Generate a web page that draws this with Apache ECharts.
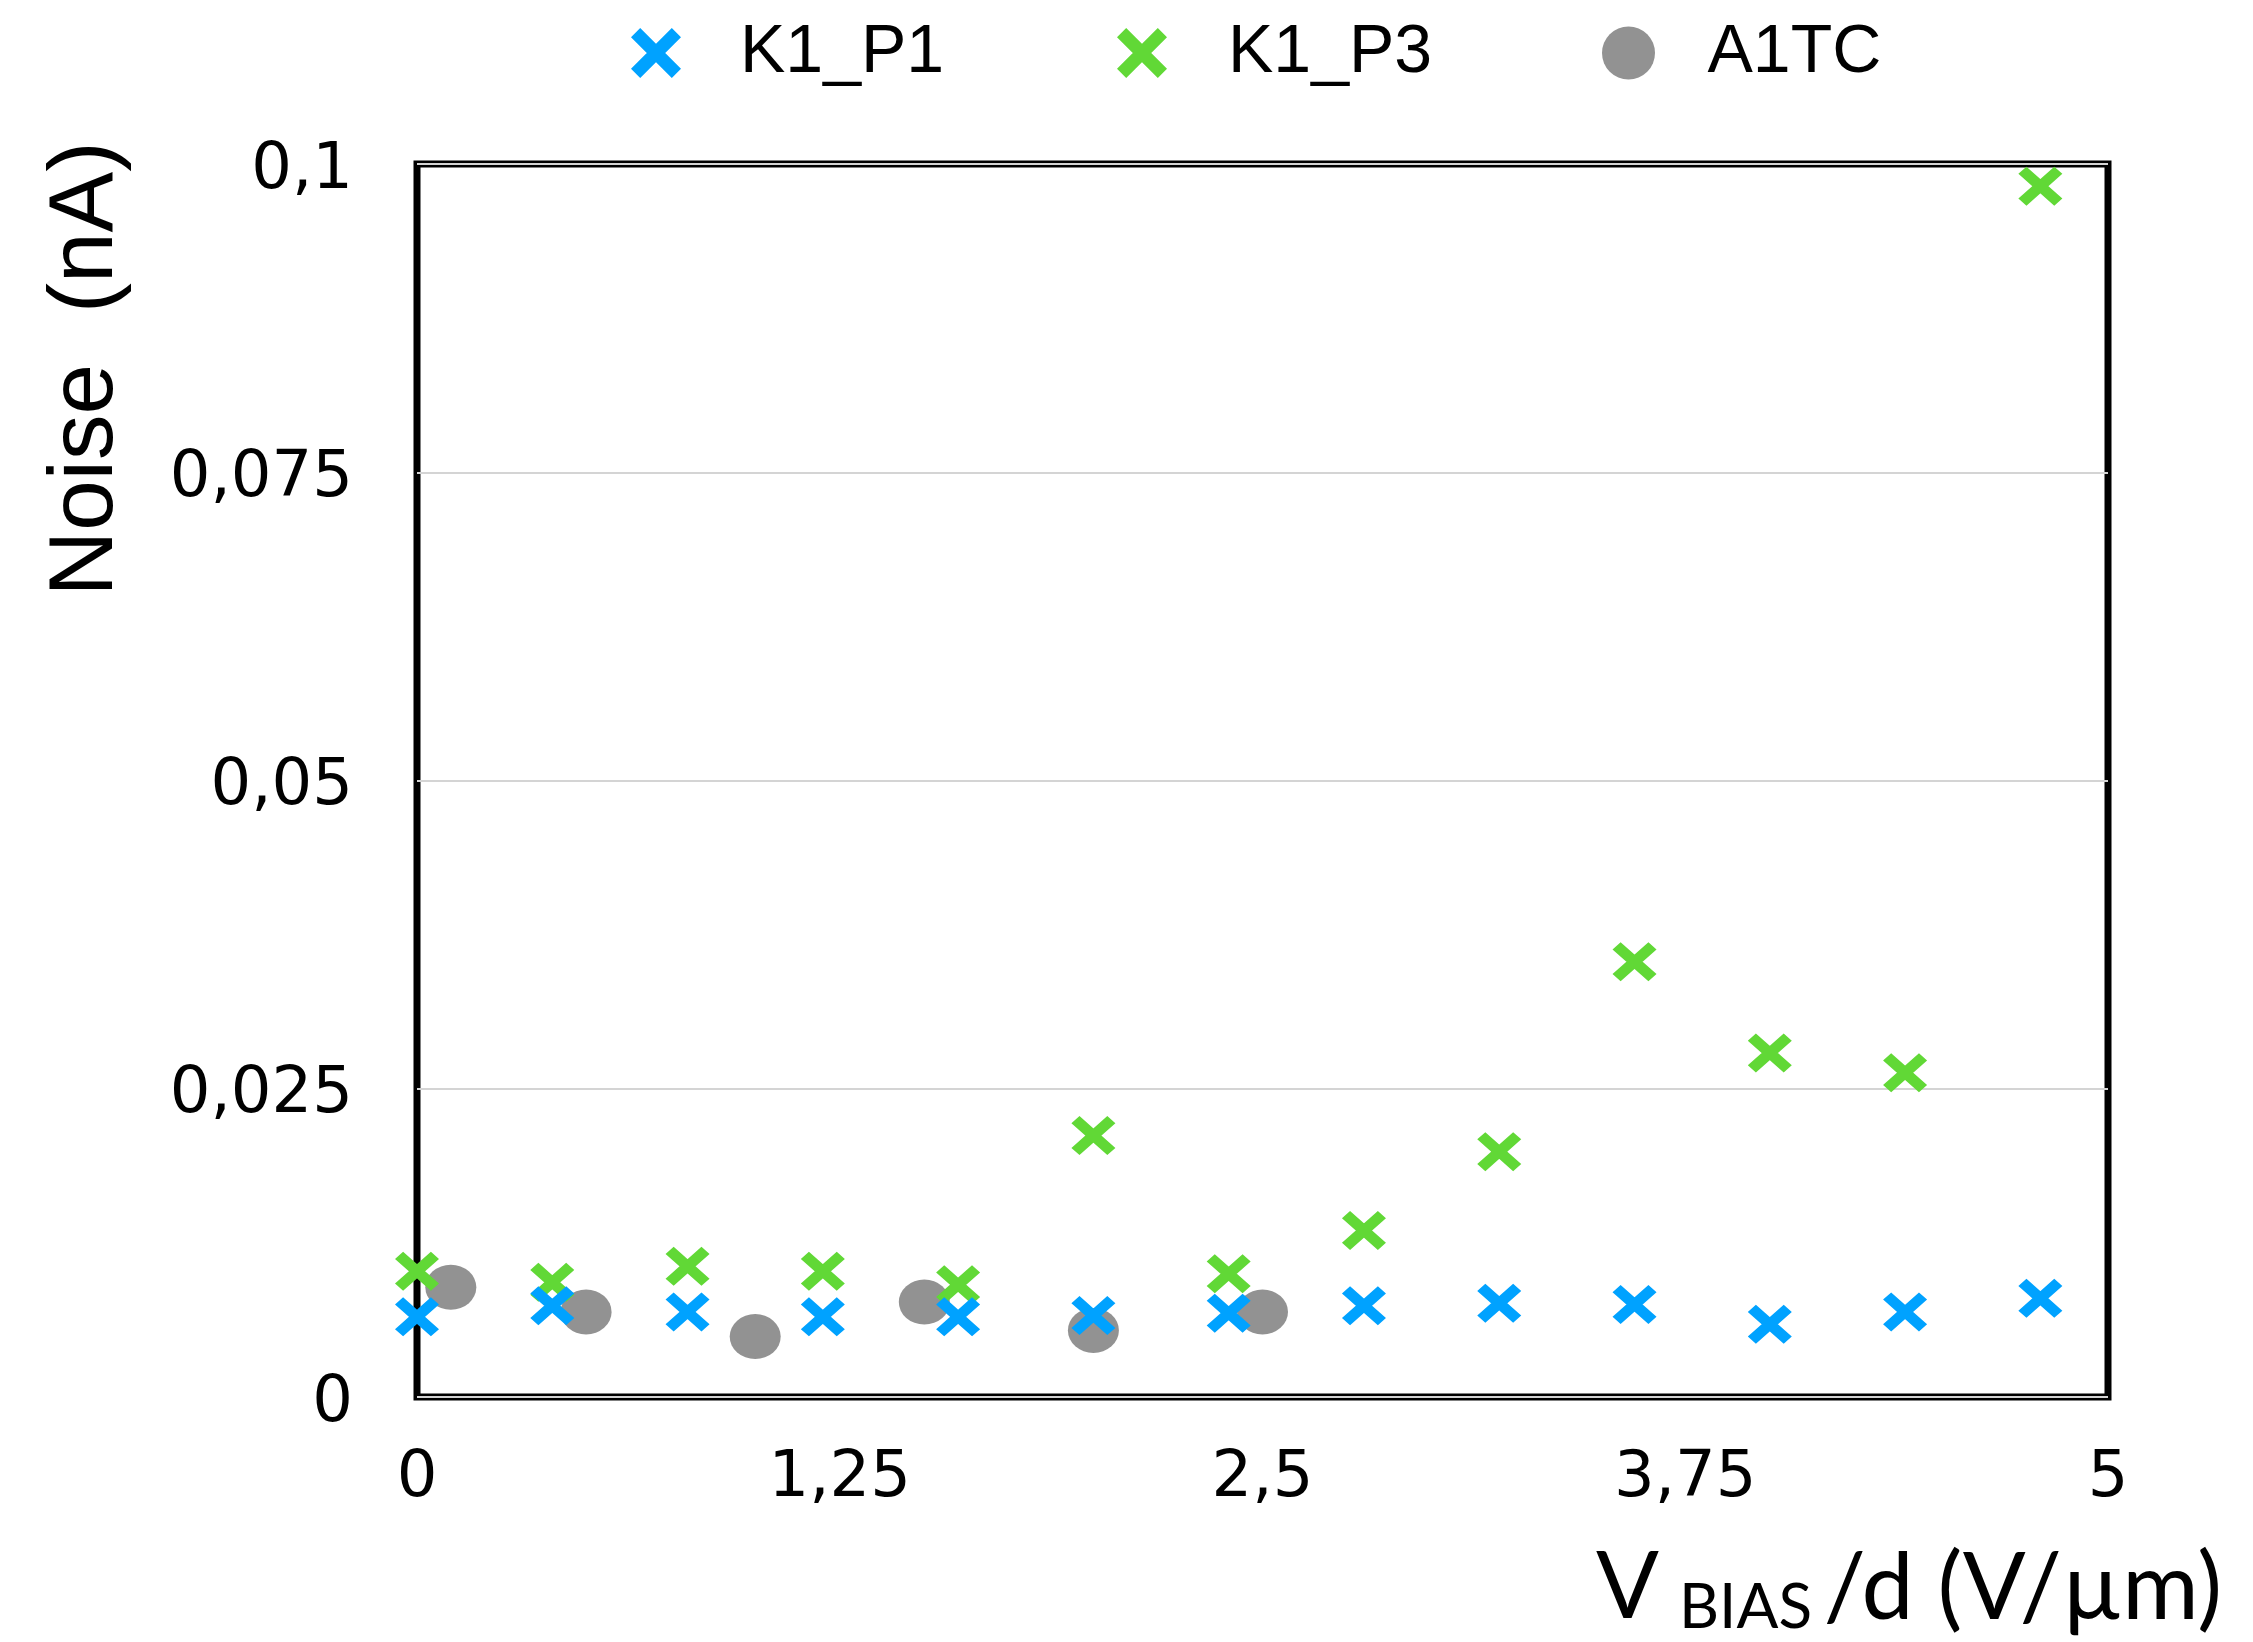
<!DOCTYPE html>
<html>
<head>
<meta charset="utf-8">
<script src="https://cdn.jsdelivr.net/npm/echarts@6/dist/echarts.min.js"></script>
<style>
html,body{margin:0;padding:0;background:#fff;}
#chart{width:2253px;height:1642px;}
</style>
</head>
<body>
<div id="chart"></div>
<script>
// ---- data ----
const xK1 = [0, 0.4, 0.8, 1.2, 1.6, 2.0, 2.4, 2.8, 3.2, 3.6, 4.0, 4.4, 4.8];
const noiseK1P1 = [0.0065, 0.0074, 0.0069, 0.0065, 0.0065, 0.0066, 0.0068, 0.0074, 0.0076, 0.0075, 0.0059, 0.0069, 0.0080];
const noiseK1P3 = [0.0102, 0.0093, 0.0106, 0.0102, 0.0091, 0.0212, 0.0100, 0.0135, 0.0199, 0.0353, 0.0279, 0.0263, 0.0982];
const xA1TC = [0.1, 0.5, 1.0, 1.5, 2.0, 2.5];
const noiseA1TC = [0.0089, 0.0069, 0.0049, 0.0077, 0.0054, 0.0069];
const seriesNames = ['K1_P1', 'K1_P3', 'A1TC'];
const xTickLabels = ['0', '1,25', '2,5', '3,75', '5'];
const yTickLabels = ['0', '0,025', '0,05', '0,075', '0,1'];

const crossPath = 'path://M18.4,0L100,81.6L81.6,100L0,18.4ZM81.6,0L100,18.4L18.4,100L0,81.6Z';
const ellipsePath = 'path://M0,50A50,50,0,1,1,100,50A50,50,0,1,1,0,50Z';
const colors = ['#00A2FF', '#61D836', '#929292'];

function pairs(xs, ys) { return xs.map((x, i) => [x, ys[i]]); }

const chart = echarts.init(document.getElementById('chart'), null, {renderer: 'canvas'});

const legendText = {fontSize: 68, fontFamily: 'Liberation Sans', color: '#000'};
function legendFor(name, left, icon, w, h, pad) {
  return {
    data: [name], left: left, top: 19, icon: icon, itemWidth: w, itemHeight: h,
    padding: 0, selectedMode: false,
    textStyle: Object.assign({}, legendText, {padding: [20, 0, 0, pad]})
  };
}

chart.setOption({
  animation: false,
  backgroundColor: '#fff',
  grid: {
    left: 417, right: 145, top: 164, bottom: 245,
    show: true, borderColor: '#000', borderWidth: 7, backgroundColor: 'transparent',
    containLabel: false
  },
  legend: [
    legendFor(seriesNames[0], 631, crossPath, 56, 50, 51),
    legendFor(seriesNames[1], 1117, crossPath, 56, 50, 53),
    legendFor(seriesNames[2], 1602, ellipsePath, 62, 53, 43)
  ],
  xAxis: {
    type: 'value', min: 0, max: 5, interval: 1.25,
    axisLine: {show: false}, axisTick: {show: false}, splitLine: {show: false},
    axisLabel: {
      margin: 50, fontSize: 64, fontFamily: 'DejaVu Sans', color: '#000',
      formatter: v => xTickLabels[Math.round(v / 1.25)]
    }
  },
  yAxis: {
    type: 'value', min: 0, max: 0.1, interval: 0.025,
    axisLine: {show: false}, axisTick: {show: false},
    splitLine: {show: true, lineStyle: {color: '#d4d4d4', width: 2}},
    axisLabel: {
      margin: 64, color: '#000',
      formatter: v => '{t|' + yTickLabels[Math.round(v / 0.025)] + '}',
      rich: {
        t: {fontSize: 64, fontFamily: 'DejaVu Sans', color: '#000', padding: [14, 0, 0, 0]}
      }
    }
  },
  graphic: [
    {
      type: 'text', x: 87, y: 369, rotation: Math.PI / 2,
      style: {text: 'Noise  (nA)', fontSize: 91, fontFamily: 'Liberation Sans', fill: '#000', align: 'center', verticalAlign: 'middle'}
    },
    {
      type: 'text', x: 1596, y: 1588,
      style: {text: 'V', fontSize: 93, fontFamily: 'Lato', fill: '#000', align: 'left', verticalAlign: 'middle'}
    },
    {
      type: 'text', x: 1679, y: 1608,
      style: {text: 'BIAS', fontSize: 62, fontFamily: 'Lato', fill: '#000', align: 'left', verticalAlign: 'middle'}
    },
    {
      type: 'text', x: 2222, y: 1589,
      style: {text: '/d (V/µm)', fontSize: 93, fontFamily: 'Lato', fill: '#000', align: 'right', verticalAlign: 'middle'}
    }
  ],
  series: [
    {
      name: seriesNames[0], type: 'scatter', z: 4,
      symbol: crossPath, symbolSize: [44, 39],
      itemStyle: {color: colors[0], opacity: 1},
      data: pairs(xK1, noiseK1P1)
    },
    {
      name: seriesNames[1], type: 'scatter', z: 3,
      symbol: crossPath, symbolSize: [44, 39],
      itemStyle: {color: colors[1], opacity: 1},
      data: pairs(xK1, noiseK1P3)
    },
    {
      name: seriesNames[2], type: 'scatter', z: 2,
      symbol: ellipsePath, symbolSize: [51, 45],
      itemStyle: {color: colors[2], opacity: 1},
      data: pairs(xA1TC, noiseA1TC)
    }
  ]
});
</script>
</body>
</html>
